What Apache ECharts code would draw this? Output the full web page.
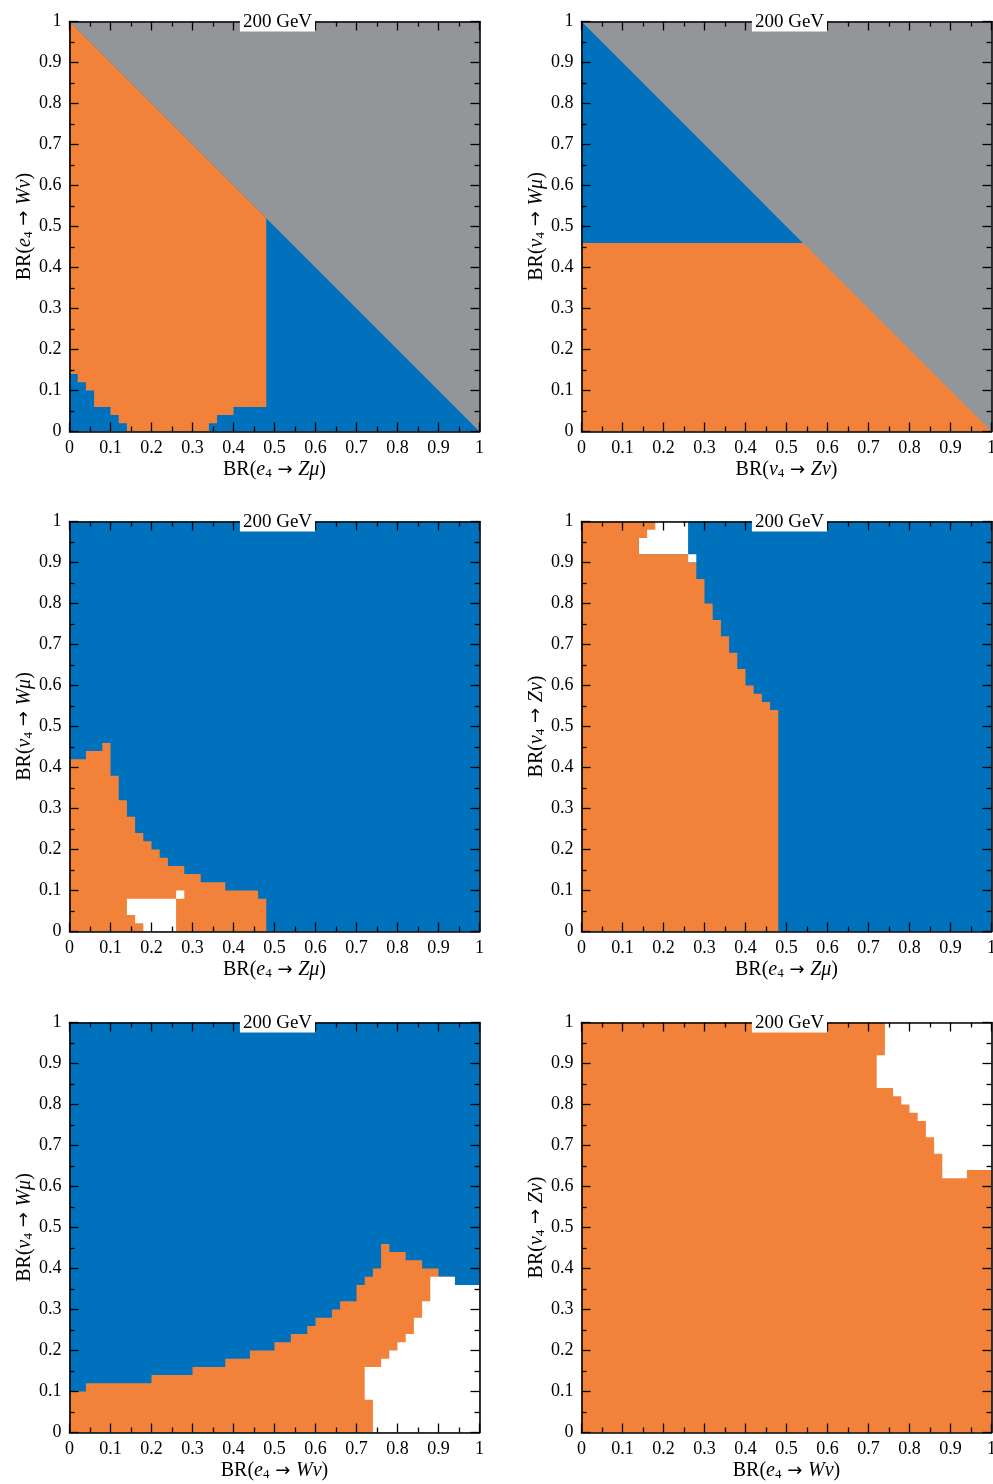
<!DOCTYPE html>
<html>
<head>
<meta charset="utf-8">
<script src="https://cdn.jsdelivr.net/npm/echarts@6/dist/echarts.min.js"></script>
<style>
html,body{margin:0;padding:0;background:#fff;overflow:hidden;}
#chart{width:993px;height:1484px;}
</style>
</head>
<body>
<div id="chart"></div>
<script>
// ---------------- DATA ----------------
const tickValues = [0,0.1,0.2,0.3,0.4,0.5,0.6,0.7,0.8,0.9,1];
const panelTitle = '200 GeV';

// Panel 1: BR(e4->Zmu) vs BR(e4->Wnu); orange region bottom staircase, bounded above by diagonal
const p1OrangeEdges  = [0,0.02,0.04,0.06,0.10,0.12,0.14,0.34,0.36,0.40,0.48];
const p1OrangeBottom = [0.14,0.12,0.10,0.06,0.04,0.02,0,0.02,0.04,0.06];

// Panel 2: BR(nu4->Znu) vs BR(nu4->Wmu); blue above this level, orange below
const p2Split = 0.46;

// Panel 3: BR(e4->Zmu) vs BR(nu4->Wmu)
const p3OrangeEdges = [0,0.04,0.08,0.10,0.12,0.14,0.16,0.18,0.20,0.22,0.24,0.28,0.32,0.38,0.46,0.48];
const p3OrangeTop   = [0.42,0.44,0.46,0.38,0.32,0.28,0.24,0.22,0.20,0.18,0.16,0.14,0.12,0.10,0.08];
const p3WhiteYEdges = [0,0.02,0.04,0.08,0.10];
const p3WhiteLeft   = [0.18,0.16,0.14,0.26];
const p3WhiteRight  = [0.26,0.26,0.26,0.28];

// Panel 4: BR(e4->Zmu) vs BR(nu4->Znu)
const p4OrangeYEdges = [0,0.54,0.56,0.58,0.60,0.64,0.68,0.72,0.76,0.80,0.86,0.90,0.92,0.96,0.98,1.0];
const p4OrangeRight  = [0.48,0.46,0.44,0.42,0.40,0.38,0.36,0.34,0.32,0.30,0.28,0.26,0.14,0.16,0.18];
const p4WhiteYEdges  = [0.90,0.92,1.0];
const p4WhiteLeft    = [0.26,0.14];
const p4WhiteRight   = [0.28,0.26];

// Panel 5: BR(e4->Wnu) vs BR(nu4->Wmu)
const p5OrangeEdges = [0,0.04,0.20,0.30,0.38,0.44,0.50,0.54,0.58,0.60,0.64,0.66,0.70,0.72,0.74,0.76,0.78,0.82,0.86,0.90,0.94,1.0];
const p5OrangeTop   = [0.10,0.12,0.14,0.16,0.18,0.20,0.22,0.24,0.26,0.28,0.30,0.32,0.36,0.38,0.40,0.46,0.44,0.42,0.40,0.38,0.36];
const p5WhiteYEdges = [0,0.08,0.16,0.18,0.20,0.22,0.24,0.28,0.32,0.36,0.38];
const p5WhiteLeft   = [0.74,0.72,0.76,0.78,0.80,0.82,0.84,0.86,0.88,0.88];
const p5WhiteRight  = [1,1,1,1,1,1,1,1,1,0.94];

// Panel 6: BR(e4->Wnu) vs BR(nu4->Znu)
const p6WhiteYEdges = [0.62,0.64,0.68,0.72,0.76,0.78,0.80,0.82,0.84,0.92,1.0];
const p6WhiteLeft   = [0.88,0.88,0.86,0.84,0.82,0.80,0.78,0.76,0.72,0.74];
const p6WhiteRight  = [0.94,1,1,1,1,1,1,1,1,1];

// ---------------- STYLE ----------------
const ORANGE = '#F2823A';
const BLUE   = '#0071BC';
const GRAY   = '#939598';
const WHITE  = '#FFFFFF';
const FONT   = '"Liberation Serif", "DejaVu Serif", serif';

// ---------------- polygon builders (data space) ----------------
function colPolygon(xE, bottoms, tops) {
  const pts = [];
  for (let i = 0; i < bottoms.length; i++) { pts.push([xE[i], bottoms[i]], [xE[i+1], bottoms[i]]); }
  for (let i = tops.length - 1; i >= 0; i--) { pts.push([xE[i+1], tops[i]], [xE[i], tops[i]]); }
  return pts;
}
function rowPolygon(yE, lefts, rights) {
  const pts = [];
  for (let i = 0; i < lefts.length; i++) { pts.push([lefts[i], yE[i]], [lefts[i], yE[i+1]]); }
  for (let i = rights.length - 1; i >= 0; i--) { pts.push([rights[i], yE[i+1]], [rights[i], yE[i]]); }
  return pts;
}
const zeros = n => new Array(n).fill(0);

// Panel polygons
const p1Blue = [[0,0],[1,0],[0,1]];
const p1Orange = (function(){
  const pts = [];
  for (let i = 0; i < p1OrangeBottom.length; i++) pts.push([p1OrangeEdges[i], p1OrangeBottom[i]], [p1OrangeEdges[i+1], p1OrangeBottom[i]]);
  const xr = p1OrangeEdges[p1OrangeEdges.length-1];
  pts.push([xr, 1 - xr], [0, 1]);
  return pts;
})();
const p2Orange = [[0,0],[1,0],[1-p2Split,p2Split],[0,p2Split]];
const p2Blue   = [[0,p2Split],[1-p2Split,p2Split],[0,1]];
const p3Orange = colPolygon(p3OrangeEdges, zeros(p3OrangeTop.length), p3OrangeTop);
const p3White  = rowPolygon(p3WhiteYEdges, p3WhiteLeft, p3WhiteRight);
const p4White  = rowPolygon(p4WhiteYEdges, p4WhiteLeft, p4WhiteRight);
const p4Orange = rowPolygon(p4OrangeYEdges, zeros(p4OrangeRight.length), p4OrangeRight);
const p5Orange = colPolygon(p5OrangeEdges, zeros(p5OrangeTop.length), p5OrangeTop);
const p5White  = rowPolygon(p5WhiteYEdges, p5WhiteLeft, p5WhiteRight);
const p6White  = rowPolygon(p6WhiteYEdges, p6WhiteLeft, p6WhiteRight);

function nm(parent, ch) {
  // BR(parent_4 -> channel)
  return 'BR({i|' + parent + '}{s|4}{a| → }{i|' + ch[0] + '}{i|' + ch[1] + '})';
}

const panels = [
  {left:69.5, top:21.5, bg:GRAY,   xName:nm('e','Zμ'), yName:nm('e','Wν'), layers:[[p1Blue,BLUE],[p1Orange,ORANGE]]},
  {left:581.5, top:21.5, bg:GRAY,  xName:nm('ν','Zν'), yName:nm('ν','Wμ'), layers:[[p2Orange,ORANGE],[p2Blue,BLUE]]},
  {left:69.5, top:521.5, bg:BLUE,  xName:nm('e','Zμ'), yName:nm('ν','Wμ'), layers:[[p3Orange,ORANGE],[p3White,WHITE]]},
  {left:581.5, top:521.5, bg:BLUE, xName:nm('e','Zμ'), yName:nm('ν','Zν'), layers:[[p4White,WHITE],[p4Orange,ORANGE]]},
  {left:69.5, top:1022.5, bg:BLUE, xName:nm('e','Wν'), yName:nm('ν','Wμ'), layers:[[p5Orange,ORANGE],[p5White,WHITE]]},
  {left:581.5, top:1022.5, bg:ORANGE, xName:nm('e','Wν'), yName:nm('ν','Zν'), layers:[[p6White,WHITE]]}
];

const SIZE = 410;
const rich = {
  i: {fontFamily: FONT, fontSize: 20, fontStyle: 'italic', color: '#000'},
  a: {fontFamily: '"DejaVu Sans", sans-serif', fontSize: 18, color: '#000'},
  s: {fontFamily: FONT, fontSize: 13, color: '#000', verticalAlign: 'bottom', padding: [8,0,0,0]}
};
const labelFmt = v => String(Math.round(v * 10) / 10);

const grid = [], xAxis = [], yAxis = [], series = [], title = [];
panels.forEach((p, g) => {
  grid.push({left: p.left, top: p.top, width: SIZE, height: SIZE, show: true, backgroundColor: p.bg, borderWidth: 0,
             containLabel: false, outerBoundsMode: 'none'});
  const common = {
    type: 'value', min: 0, max: 1, interval: 0.1, gridIndex: g, z: 4,
    axisLine: {show: true, onZero: false, lineStyle: {color: '#000', width: 1.6}},
    axisTick: {show: true, inside: true, length: 9, lineStyle: {color: '#000', width: 1.3}},
    minorTick: {show: true, splitNumber: 2, length: 5, lineStyle: {color: '#000', width: 1.3}},
    splitLine: {show: false}, minorSplitLine: {show: false}
  };
  xAxis.push(Object.assign({}, common, {
    position: 'bottom',
    axisLabel: {show: true, color: '#000', fontFamily: FONT, fontSize: 18, margin: 8, formatter: labelFmt},
    name: p.xName, nameLocation: 'middle', nameGap: 28,
    nameTextStyle: {fontFamily: FONT, fontSize: 20, color: '#000', rich: rich}
  }));
  xAxis.push(Object.assign({}, common, {position: 'top', axisLabel: {show: false}}));
  yAxis.push(Object.assign({}, common, {
    position: 'left',
    axisLabel: {show: true, color: '#000', fontFamily: FONT, fontSize: 18, margin: 8, formatter: labelFmt},
    name: p.yName, nameLocation: 'middle', nameGap: 34, nameRotate: 90,
    nameTextStyle: {fontFamily: FONT, fontSize: 20, color: '#000', rich: rich}
  }));
  yAxis.push(Object.assign({}, common, {position: 'right', axisLabel: {show: false}}));
  p.layers.forEach(([pts, color]) => {
    series.push({
      type: 'custom', coordinateSystem: 'cartesian2d', xAxisIndex: 2*g, yAxisIndex: 2*g,
      silent: true, z: 1, clip: true, animation: false,
      data: pts,
      renderItem: function (params, api) {
        if (params.dataIndex !== 0) return null;
        return {type: 'polygon', shape: {points: pts.map(q => api.coord(q))}, style: {fill: color, stroke: null}};
      }
    });
  });
  title.push({
    text: panelTitle, left: p.left + SIZE/2, top: p.top - 10, textAlign: 'center',
    backgroundColor: '#fff', padding: [1, 3, 0, 3], z: 10,
    textStyle: {fontFamily: FONT, fontSize: 19, fontWeight: 'normal', color: '#000', lineHeight: 19}
  });
});

const chart = echarts.init(document.getElementById('chart'), null, {renderer: 'canvas'});
chart.setOption({animation: false, backgroundColor: '#fff', title, grid, xAxis, yAxis, series});
</script>
</body>
</html>
